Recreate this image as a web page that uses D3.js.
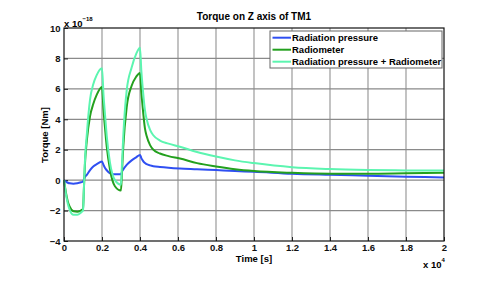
<!DOCTYPE html>
<html>
<head>
<meta charset="utf-8">
<script src="https://cdn.jsdelivr.net/npm/d3@7"></script>
<style>
  body { margin: 0; background: #fff; }
  text { font-family: "Liberation Sans", Arial, sans-serif; }
</style>
</head>
<body>
<div class="chart"></div>
<script>
// time in seconds, torque in units of 1e-18 Nm
var timeS = [0, 100, 200, 300, 500, 700, 900, 1000, 1050, 1100, 1200, 1370, 1540, 1720, 2000,
    2080, 2160, 2250, 2420, 2680, 3000, 3050, 3120, 3300, 3560, 3800, 4000,
    4070, 4140, 4260, 4350, 4530, 4700, 5050, 5500, 6100, 7000, 8000, 9000,
    10000, 12000, 14000, 16000, 18000, 20000];

var radPressure = [0, -0.1, -0.17, -0.21, -0.23, -0.2, -0.14, -0.1, 0.05, 0.2, 0.35, 0.66, 0.9, 1.05, 1.22,
    1.0, 0.8, 0.65, 0.45, 0.38, 0.38, 0.55, 0.7, 1.0, 1.3, 1.5, 1.66,
    1.45, 1.3, 1.12, 1.05, 0.97, 0.92, 0.87, 0.82, 0.77, 0.72, 0.66, 0.6,
    0.55, 0.42, 0.35, 0.29, 0.23, 0.17];

var radiometer = [0, -0.8, -1.4, -1.75, -2.05, -2.08, -1.98, -1.9, -0.5, 1.0, 2.6, 4.2, 5.0, 5.6, 6.12,
    4.6, 3.4, 2.2, 0.7, -0.4, -0.68, 0.5, 2.2, 4.8, 6.2, 6.8, 7.05,
    5.8, 4.8, 3.4, 2.9, 2.3, 2.0, 1.75, 1.58, 1.42, 1.12, 0.9, 0.72,
    0.6, 0.48, 0.42, 0.42, 0.45, 0.48];

var combined = [0, -0.9, -1.55, -1.95, -2.28, -2.28, -2.12, -2.0, -0.45, 1.2, 3.0, 5.3, 6.3, 6.9, 7.35,
    5.6, 4.3, 2.9, 1.15, 0.0, -0.3, 1.0, 2.9, 5.9, 7.4, 8.3, 8.7,
    7.2, 6.1, 4.6, 4.0, 3.3, 2.95, 2.6, 2.4, 2.2, 1.85, 1.55, 1.3,
    1.12, 0.85, 0.73, 0.67, 0.64, 0.63];

var seriesNames = ["Radiation pressure", "Radiometer", "Radiation pressure + Radiometer"];
var seriesColors = ["#2f4ff2", "#23a01e", "#5cf5b0"];
var xTicks = [0, 2000, 4000, 6000, 8000, 10000, 12000, 14000, 16000, 18000, 20000];
var yTicks = [-4, -2, 0, 2, 4, 6, 8, 10];

var svgWidth = 491;
var svgHeight = 284;
var margin = { top: 28, right: 47, bottom: 43, left: 64 };
var width = svgWidth - margin.left - margin.right;
var height = svgHeight - margin.top - margin.bottom;

var svg = d3.select(".chart")
    .append("svg")
    .attr("width", svgWidth)
    .attr("height", svgHeight);

var chartGroup = svg.append("g")
    .attr("transform", `translate(${margin.left}, ${margin.top})`);

var xScale = d3.scaleLinear().domain([0, 20000]).range([0, width]);
var yScale = d3.scaleLinear().domain([-4, 10]).range([height, 0]);

// grid
chartGroup.append("g")
    .selectAll("line.gx")
    .data(xTicks.slice(1, -1))
    .enter().append("line")
    .attr("x1", d => xScale(d)).attr("x2", d => xScale(d))
    .attr("y1", 0).attr("y2", height)
    .attr("stroke", "#9a9a9a").attr("stroke-width", 1.2);
chartGroup.append("g")
    .selectAll("line.gy")
    .data(yTicks.slice(1, -1))
    .enter().append("line")
    .attr("x1", 0).attr("x2", width)
    .attr("y1", d => yScale(d)).attr("y2", d => yScale(d))
    .attr("stroke", "#8a8a8a").attr("stroke-width", 1.2);

// axes with inward ticks
var bottomAxis = d3.axisBottom(xScale).tickValues(xTicks).tickSize(-4).tickPadding(3.5)
    .tickFormat(d => d3.format("")(d / 10000));
var leftAxis = d3.axisLeft(yScale).tickValues(yTicks).tickSize(-4).tickPadding(3.5);

var xAxisG = chartGroup.append("g")
    .attr("transform", `translate(0, ${height})`)
    .call(bottomAxis);
var yAxisG = chartGroup.append("g").call(leftAxis);
[xAxisG, yAxisG].forEach(function(g) {
    g.select(".domain").remove();
    g.selectAll("text")
        .attr("font-family", "Liberation Sans, Arial, sans-serif")
        .attr("font-size", 9.5)
        .attr("font-weight", "bold")
        .attr("fill", "#111");
    g.selectAll("line").attr("stroke", "#222");
});

// lines
var seriesData = [radPressure, radiometer, combined];
var line = d3.line()
    .x((d, i) => xScale(timeS[i]))
    .y(d => yScale(d))
    .curve(d3.curveMonotoneX);

chartGroup.append("g")
    .selectAll("path")
    .data(seriesData)
    .enter().append("path")
    .attr("d", d => line(d))
    .attr("fill", "none")
    .attr("stroke", (d, i) => seriesColors[i])
    .attr("stroke-width", 2);

// box
chartGroup.append("rect")
    .attr("width", width).attr("height", height)
    .attr("fill", "none").attr("stroke", "#111").attr("stroke-width", 1.2);

// title and labels
svg.append("text")
    .attr("x", margin.left + width / 2).attr("y", 20)
    .attr("text-anchor", "middle")
    .attr("font-size", 10).attr("font-weight", "bold")
    .text("Torque on Z axis of TM1");

svg.append("text")
    .attr("x", margin.left + width / 2).attr("y", 262)
    .attr("text-anchor", "middle")
    .attr("font-size", 9.5).attr("font-weight", "bold")
    .text("Time [s]");

svg.append("text")
    .attr("transform", "translate(48, 135) rotate(-90)")
    .attr("text-anchor", "middle")
    .attr("font-size", 9.5).attr("font-weight", "bold")
    .text("Torque [Nm]");

var yExp = svg.append("text")
    .attr("x", 64).attr("y", 26.5)
    .attr("font-size", 9.5).attr("font-weight", "bold");
yExp.append("tspan").text("x 10");
yExp.append("tspan").attr("dy", -6).attr("font-size", 6).text("\u221218");

var xExp = svg.append("text")
    .attr("x", 423).attr("y", 268)
    .attr("font-size", 9.5).attr("font-weight", "bold");
xExp.append("tspan").text("x 10");
xExp.append("tspan").attr("dy", -6).attr("font-size", 6).text("4");

// legend
var legend = svg.append("g").attr("transform", "translate(270, 31)");
legend.append("rect")
    .attr("width", 172).attr("height", 37)
    .attr("fill", "#fff").attr("stroke", "#666").attr("stroke-width", 1);
var rows = legend.selectAll("g.row")
    .data(seriesNames)
    .enter().append("g")
    .attr("transform", (d, i) => `translate(0, ${6.7 + i * 12})`);
rows.append("line")
    .attr("x1", 2.5).attr("x2", 21)
    .attr("stroke", (d, i) => seriesColors[i]).attr("stroke-width", 2);
rows.append("text")
    .attr("x", 22).attr("dy", "0.35em")
    .attr("font-size", 9.5).attr("font-weight", "bold")
    .text(d => d);
</script>
</body>
</html>
